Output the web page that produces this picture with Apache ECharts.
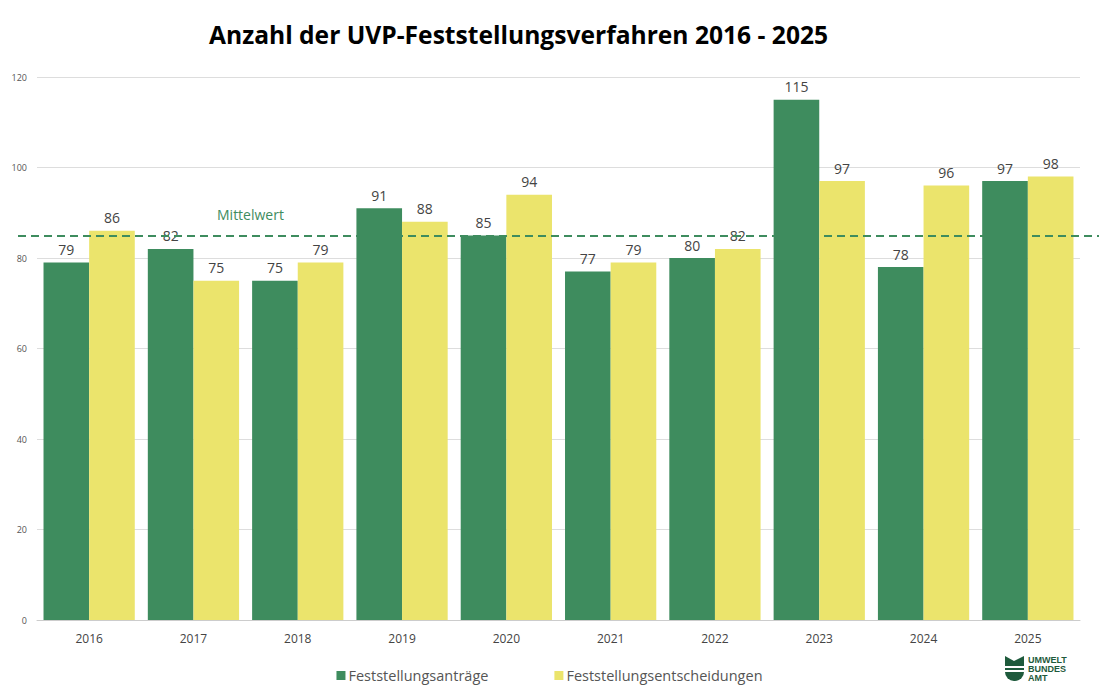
<!DOCTYPE html>
<html>
<head>
<meta charset="utf-8">
<script src="https://cdn.jsdelivr.net/npm/echarts@6/dist/echarts.min.js"></script>
<style>
  html, body { margin: 0; padding: 0; background: #fff; }
  #chart { width: 1099px; height: 693px; }
</style>
</head>
<body>
<div id="chart"></div>
<script>
const years = ['2016', '2017', '2018', '2019', '2020', '2021', '2022', '2023', '2024', '2025'];
const antraege = [79, 82, 75, 91, 85, 77, 80, 115, 78, 97];
const entscheidungen = [86, 75, 79, 88, 94, 79, 82, 97, 96, 98];
const mittelwert = 85;
const yTicks = { min: 0, max: 120, interval: 20 };

const green = '#3e8c5e';
const yellow = '#ebe46c';
const logoGreen = '#1e5a3c';
const font = 'Open Sans';

const chart = echarts.init(document.getElementById('chart'), null, { renderer: 'svg' });

const labelStyle = {
  show: true,
  position: 'top',
  distance: 6,
  color: '#444',
  fontSize: 14,
  fontFamily: font
};

const option = {
  animation: false,
  textStyle: { fontFamily: font },
  title: {
    text: 'Anzahl der UVP-Feststellungsverfahren 2016 - 2025',
    left: 204,
    top: 17,
    textStyle: { fontSize: 24.6, fontWeight: 'bold', color: '#000', fontFamily: font }
  },
  legend: {
    bottom: 5,
    left: 'center',
    itemWidth: 9,
    itemHeight: 9,
    itemGap: 66,
    icon: 'rect',
    textStyle: { fontSize: 14.5, color: '#555', fontFamily: font, padding: [0, 0, 0, -2] },
    data: ['Feststellungsanträge', 'Feststellungsentscheidungen']
  },
  grid: { left: 37, right: 19, top: 77, bottom: 73 },
  xAxis: {
    type: 'category',
    data: years,
    axisTick: { show: false },
    axisLine: { lineStyle: { color: '#ccc' } },
    axisLabel: { color: '#444', fontSize: 12, margin: 12, fontFamily: font }
  },
  yAxis: {
    type: 'value',
    min: yTicks.min,
    max: yTicks.max,
    interval: yTicks.interval,
    axisLabel: { color: '#555', fontSize: 9, margin: 10, fontFamily: font },
    splitLine: { lineStyle: { color: '#ddd' } }
  },
  series: [
    {
      name: 'Feststellungsanträge',
      type: 'bar',
      data: antraege,
      itemStyle: { color: green },
      barGap: '0%',
      barCategoryGap: '12.5%',
      clip: false,
      label: labelStyle,
      markLine: {
        silent: true,
        symbol: 'none',
        lineStyle: { color: green, type: [8, 5], width: 2 },
        label: {
          show: true,
          formatter: 'Mittelwert',
          position: 'insideStartTop',
          distance: [199, 14],
          color: green,
          fontSize: 14,
          fontFamily: font
        },
        data: [[
          { xAxis: 0, yAxis: mittelwert, x: 18 },
          { xAxis: years.length - 1, yAxis: mittelwert, x: 1099 }
        ]]
      }
    },
    {
      name: 'Feststellungsentscheidungen',
      type: 'bar',
      data: entscheidungen,
      itemStyle: { color: yellow },
      barGap: '0%',
      barCategoryGap: '12.5%',
      label: labelStyle
    }
  ],
  graphic: [
    {
      type: 'group',
      left: 1005,
      top: 655,
      children: [
        { type: 'polygon', shape: { points: [[0, 0], [9, 5], [19, 0], [19, 10], [0, 10]] }, style: { fill: logoGreen } },
        { type: 'rect', shape: { x: 0, y: 12, width: 19, height: 2 }, style: { fill: logoGreen } },
        { type: 'rect', shape: { x: 0, y: 16, width: 19, height: 9, r: [0, 0, 9, 9] }, style: { fill: logoGreen } },
        {
          type: 'text',
          x: 23,
          y: -1,
          style: {
            text: 'UMWELT\nBUNDES\nAMT',
            fill: logoGreen,
            font: 'bold 9px "Liberation Sans Narrow", "Liberation Sans"',
            lineHeight: 9
          }
        }
      ]
    }
  ]
};

chart.setOption(option);
</script>
</body>
</html>
